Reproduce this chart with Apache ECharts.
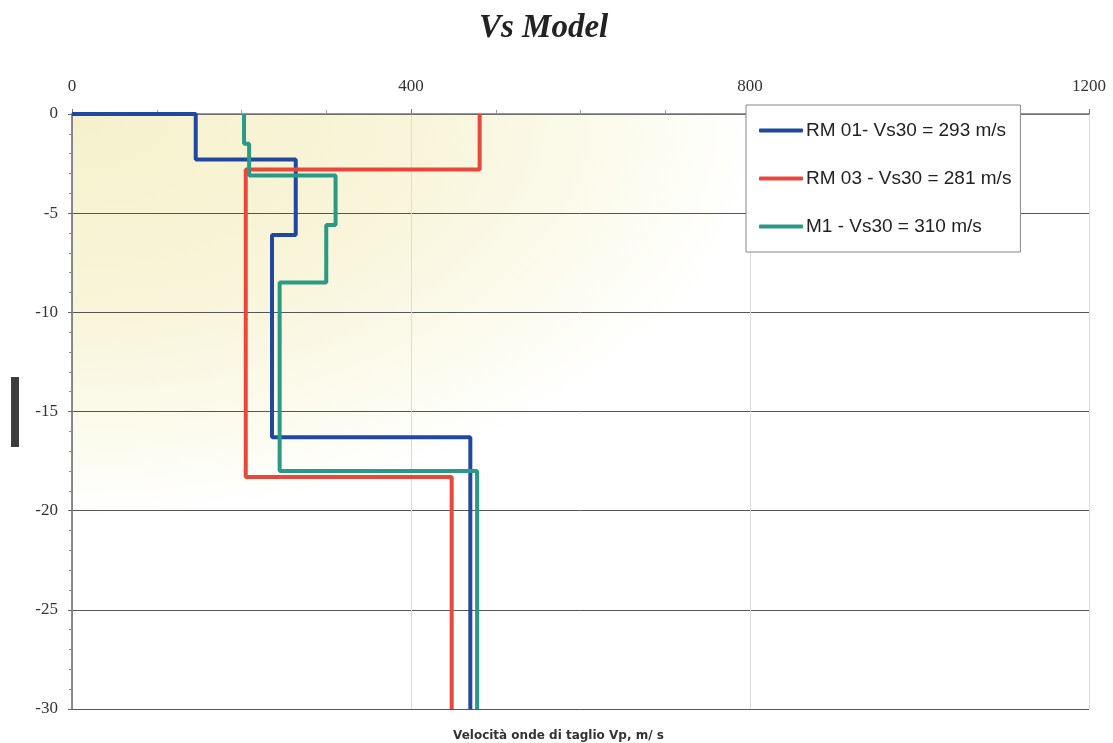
<!DOCTYPE html>
<html>
<head>
<meta charset="utf-8">
<script src="https://cdn.jsdelivr.net/npm/echarts@6/dist/echarts.min.js"></script>
<style>
  html, body { margin: 0; padding: 0; background: #fff; }
  #chart { width: 1113px; height: 743px; }
</style>
</head>
<body>
<div id="chart"></div>
<script>
// step profiles: velocity (m/s) and depth (m)
const rm01Vs = [0, 146, 146, 264, 264, 236, 236, 470, 470];
const rm01Depth = [0, 0, -2.3, -2.3, -6.1, -6.1, -16.3, -16.3, -30];

const rm03Vs = [481, 481, 205, 205, 448, 448];
const rm03Depth = [0, -2.8, -2.8, -18.3, -18.3, -30];

const m1Vs = [203, 203, 209, 209, 311, 311, 300, 300, 245, 245, 478, 478];
const m1Depth = [0, -1.5, -1.5, -3.1, -3.1, -5.6, -5.6, -8.5, -8.5, -18, -18, -30];

const seriesNames = ['RM 01- Vs30 = 293 m/s', 'RM 03 - Vs30 = 281 m/s', 'M1 - Vs30 = 310 m/s'];
const seriesColors = ['#2148a0', '#e8483c', '#2a9a86'];

const toPairs = (xs, ys) => xs.map((x, i) => [x, ys[i]]);
const profiles = [
    toPairs(rm01Vs, rm01Depth),
    toPairs(rm03Vs, rm03Depth),
    toPairs(m1Vs, m1Depth)
];

const chart = echarts.init(document.getElementById('chart'));

// plot box (px)
const gridLeft = 72, gridTop = 114, gridRight = 24, gridBottom = 34;
const plotW = 1113 - gridLeft - gridRight;
const plotH = 743 - gridTop - gridBottom;

const option = {
    backgroundColor: '#fff',
    animation: false,
    title: [
        {
            text: 'Vs Model',
            left: 474,
            top: 7,
            textStyle: {
                fontFamily: 'Liberation Serif',
                fontStyle: 'italic',
                fontWeight: 'bold',
                fontSize: 33,
                color: '#222'
            }
        },
        {
            text: 'Velocità onde di taglio Vp, m/ s',
            left: 448,
            top: 725,
            textStyle: {
                fontFamily: 'DejaVu Sans',
                fontWeight: 'bold',
                fontSize: 12,
                color: '#333'
            }
        }
    ],
    legend: {
        orient: 'vertical',
        left: 746,
        top: 105,
        padding: [16, 9, 16, 13],
        itemGap: 29,
        itemWidth: 44,
        itemHeight: 4,
        icon: 'roundRect',
        backgroundColor: '#fff',
        borderColor: '#888',
        borderWidth: 1,
        borderRadius: 0,
        textStyle: {
            fontFamily: 'Liberation Sans',
            fontSize: 19,
            color: '#222',
            padding: [0, 0, 0, -2]
        },
        data: seriesNames
    },
    grid: {
        left: gridLeft,
        top: gridTop,
        right: gridRight,
        bottom: gridBottom,
        show: false
    },
    xAxis: {
        type: 'value',
        position: 'top',
        min: 0,
        max: 1200,
        interval: 400,
        axisLine: { show: true, lineStyle: { color: '#777', width: 1.5 } },
        axisTick: { show: true, inside: false, length: 5, lineStyle: { color: '#777' } },
        minorTick: { show: true, splitNumber: 4, length: 4, lineStyle: { color: '#999' } },
        axisLabel: {
            margin: 19,
            fontFamily: 'Liberation Serif',
            fontSize: 17,
            color: '#333',
            formatter: v => String(v)
        },
        splitLine: { show: true, lineStyle: { color: '#ddd', width: 1 } }
    },
    yAxis: {
        type: 'value',
        min: -30,
        max: 0,
        interval: 5,
        axisLine: { show: true, onZero: false, lineStyle: { color: '#666', width: 1.5 } },
        axisTick: { show: true, length: 4, lineStyle: { color: '#666' } },
        minorTick: { show: true, splitNumber: 5, length: 3, lineStyle: { color: '#888' } },
        axisLabel: {
            margin: 14,
            fontFamily: 'Liberation Serif',
            fontSize: 17,
            color: '#333'
        },
        splitLine: { show: true, lineStyle: { color: '#555', width: 1 } }
    },
    graphic: [
        {
            // pale yellow wash fading from the top-left corner
            type: 'rect',
            z: -10,
            x: gridLeft,
            y: gridTop,
            scaleY: plotH / plotW,
            shape: { x: 0, y: 0, width: plotW, height: plotW },
            style: {
                fill: {
                    type: 'radial',
                    x: 0,
                    y: 0,
                    r: 0.68,
                    colorStops: [
                        { offset: 0, color: '#f6f1cc' },
                        { offset: 0.5, color: '#f8f5da' },
                        { offset: 0.8, color: '#fcfbee' },
                        { offset: 1, color: '#ffffff' }
                    ]
                }
            }
        },
        {
            type: 'rect',
            left: 11,
            top: 377,
            shape: { width: 8, height: 70 },
            style: { fill: '#3a3d3c' }
        }
    ],
    series: profiles.map((data, i) => ({
        name: seriesNames[i],
        type: 'line',
        data: data,
        symbol: 'none',
        color: seriesColors[i],
        lineStyle: { width: 4, color: seriesColors[i] },
        z: 3 + i
    }))
};

chart.setOption(option);
</script>
</body>
</html>
